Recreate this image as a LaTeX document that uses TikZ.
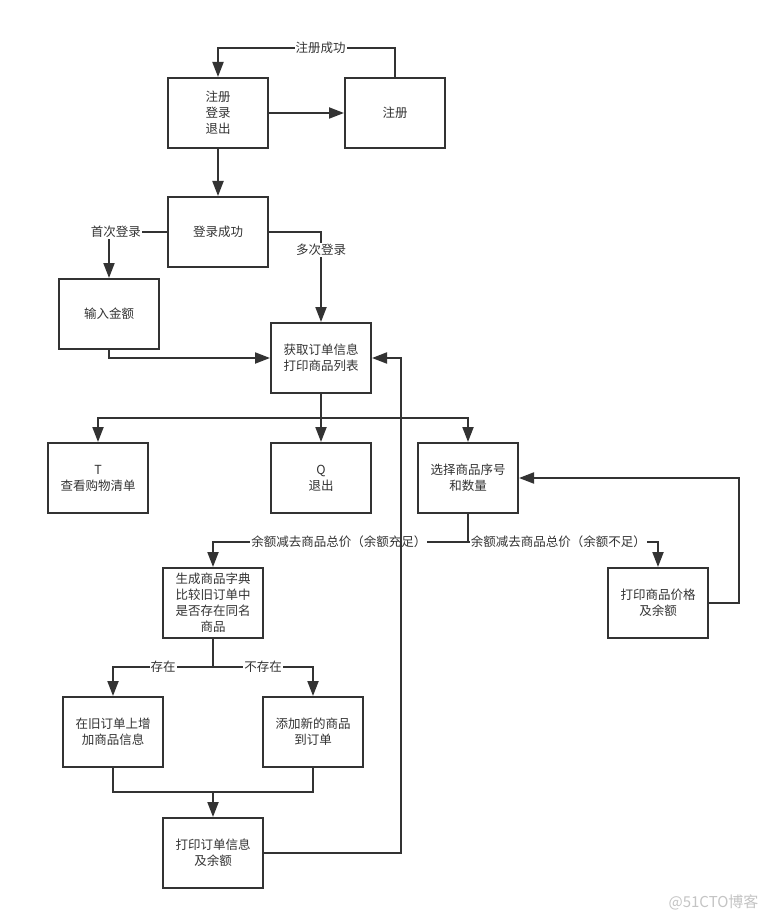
\documentclass[tikz,border=0pt]{standalone}
\usepackage{fontspec}
\setmainfont{Noto Sans CJK SC}
\usetikzlibrary{arrows.meta}
\definecolor{ln}{HTML}{333333}
\definecolor{wm}{HTML}{C4C4C4}
\tikzset{
  box/.style={draw=ln, line width=2pt, minimum width=100pt, minimum height=70pt,
    inner sep=0pt, align=center, text=ln, font=\fontsize{12.5}{16}\selectfont},
  conn/.style={draw=ln, line width=2pt},
  arr/.style={conn, -{Triangle[length=15pt,width=11pt]}},
  lbl/.style={fill=white, inner sep=1pt, text=ln, font=\fontsize{12.5}{15}\selectfont}
}
\begin{document}
\begin{tikzpicture}[x=1pt,y=-1pt]
\useasboundingbox[fill=white] (0,0) rectangle (769,920);
\node[box] (A) at (218,113) {注册\\登录\\退出};
\node[box] (B) at (395,113) {注册};
\node[box] (C) at (218,232) {登录成功};
\node[box] (D) at (109,314) {输入金额};
\node[box] (E) at (321,358) {获取订单信息\\打印商品列表};
\node[box] (F) at (98,478) {T\\查看购物清单};
\node[box] (G) at (321,478) {Q\\退出};
\node[box] (H) at (468,478) {选择商品序号\\和数量};
\node[box] (J) at (213,603) {生成商品字典\\比较旧订单中\\是否存在同名\\商品};
\node[box] (K) at (658,603) {打印商品价格\\及余额};
\node[box] (L) at (113,732) {在旧订单上增\\加商品信息};
\node[box] (M) at (313,732) {添加新的商品\\到订单};
\node[box] (I) at (213,853) {打印订单信息\\及余额};

\coordinate (t1) at (395,48);
\coordinate (eb) at (321,418);
\coordinate (h1) at (468,542);
\coordinate (j1) at (213,667);
\coordinate (mg) at (213,792);
\coordinate (r1) at (401,0);
\coordinate (r2) at (739,0);

\draw[arr] (B.north) -- (t1) -| node[lbl,pos=0.21] (l1) {注册成功} (A.north);
\draw[arr] (A.east) -- (B.west);
\draw[arr] (A.south) -- (C.north);
\draw[arr] (C.west) -| node[lbl,pos=0.44] (l2) {首次登录} (D.north);
\draw[arr] (C.east) -| node[lbl,pos=0.6] (l3) {多次登录} (E.north);
\draw[arr] (D.south) |- (E.west);
\draw[conn] (E.south) -- (eb);
\draw[arr] (eb) -| (F.north);
\draw[arr] (eb) -- (G.north);
\draw[arr] (eb) -| (H.north);
\draw[conn] (H.south) -- (h1);
\draw[arr] (h1) -| node[lbl,pos=0.253] (l4) {余额减去商品总价（余额充足）} (J.north);
\draw[arr] (h1) -| node[lbl,pos=0.238] (l5) {余额减去商品总价（余额不足）} (K.north);
\draw[arr] (K.east) -| (r2 |- H.east) -- (H.east);
\draw[conn] (J.south) -- (j1);
\draw[arr] (j1) -| node[lbl,pos=0.25] (l6) {存在} (L.north);
\draw[arr] (j1) -| node[lbl,pos=0.25] (l7) {不存在} (M.north);
\draw[conn] (L.south) |- (mg) -| (M.south);
\draw[arr] (mg) -- (I.north);
\draw[arr] (I.east) -| (r1 |- E.east) -- (E.east);

\node[text=wm, font=\fontsize{15}{18}\selectfont, anchor=east] (wmk) at (762,902) {@51CTO博客};
\end{tikzpicture}
\end{document}
